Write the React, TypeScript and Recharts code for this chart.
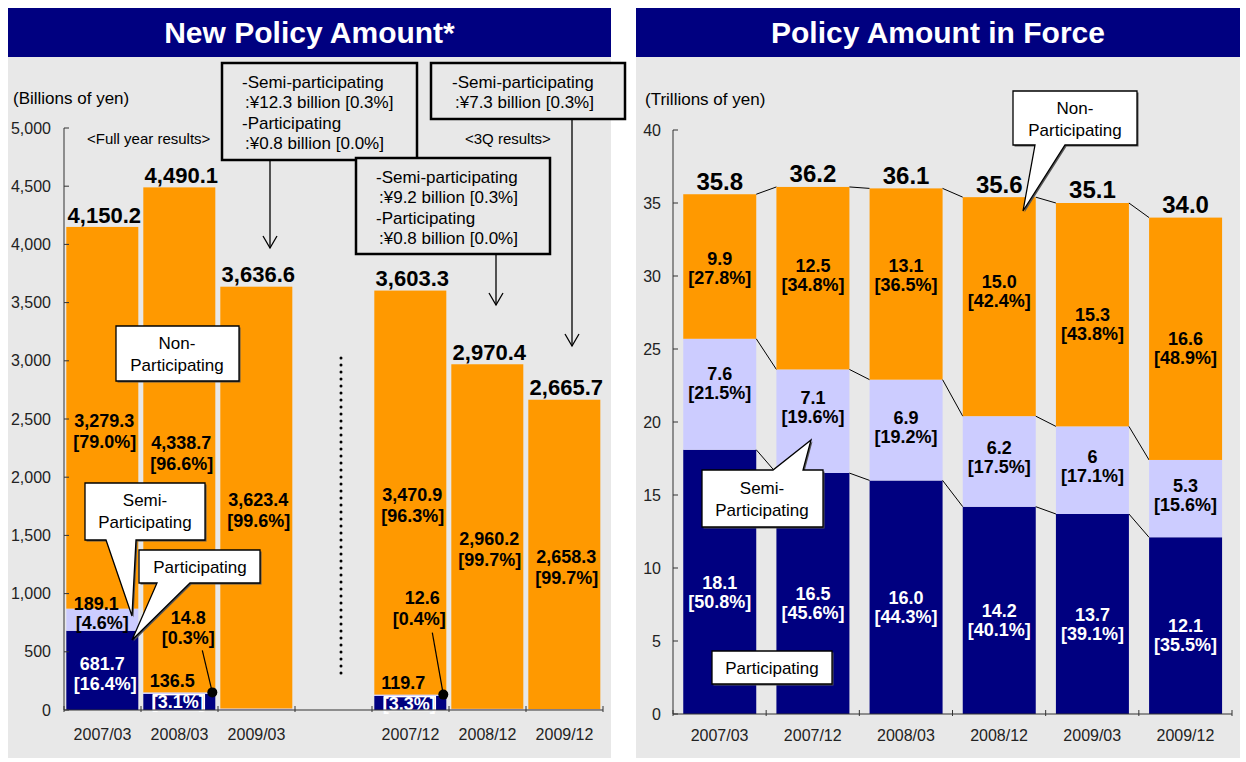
import React from 'react';
import { BarChart, Bar, XAxis, YAxis } from 'recharts';

const FONT = '"Liberation Sans", Arial, Helvetica, sans-serif';
const NAVY = '#000080';
const LILAC = '#ccccff';
const ORANGE = '#ff9900';
const PANEL = '#e8e8e8';
const AXIS = '#333333';

// New Policy Amount (billions of yen); the '' slot is the gap between full year and 3Q bars
const newPeriods = ['2007/03', '2008/03', '2009/03', '', '2007/12', '2008/12', '2009/12'];
const newPart = [681.7, 136.5, 0.8, null, 119.7, 0.8, 0];
const newSemi = [189.1, 14.8, 12.3, null, 12.6, 9.2, 7.3];
const newNon = [3279.3, 4338.7, 3623.4, null, 3470.9, 2960.2, 2658.3];
const newTotal = [4150.2, 4490.1, 3636.6, null, 3603.3, 2970.4, 2665.7];
const newPartPct = ['16.4%', '3.1%', null, null, '3.3%', null, null];
const newSemiPct = ['4.6%', '0.3%', null, null, '0.4%', null, null];
const newNonPct = ['79.0%', '96.6%', '99.6%', null, '96.3%', '99.7%', '99.7%'];
const newTicks = [0, 500, 1000, 1500, 2000, 2500, 3000, 3500, 4000, 4500, 5000];

// Policy Amount in Force (trillions of yen)
const forcePeriods = ['2007/03', '2007/12', '2008/03', '2008/12', '2009/03', '2009/12'];
const forcePart = [18.1, 16.5, 16.0, 14.2, 13.7, 12.1];
const forceSemi = [7.6, 7.1, 6.9, 6.2, 6, 5.3];
const forceNon = [9.9, 12.5, 13.1, 15.0, 15.3, 16.6];
const forceTotal = [35.8, 36.2, 36.1, 35.6, 35.1, 34.0];
const forcePartPct = [50.8, 45.6, 44.3, 40.1, 39.1, 35.5];
const forceSemiPct = [21.5, 19.6, 19.2, 17.5, 17.1, 15.6];
const forceNonPct = [27.8, 34.8, 36.5, 42.4, 43.8, 48.9];
const forceTicks = [0, 5, 10, 15, 20, 25, 30, 35, 40];

const newData = newPeriods.map((period, i) => ({
  period,
  part: newPart[i],
  semi: newSemi[i],
  non: newNon[i],
}));

const forceData = forcePeriods.map((period, i) => ({
  period,
  part: forcePart[i],
  semi: forceSemi[i],
  non: forceNon[i],
}));

// chart frames
const L = { w: 620, h: 762, top: 128, right: 17, bottom: 22, yw: 64, xh: 30 };
const R = { w: 626, h: 762, top: 130, right: 14, bottom: 18, yw: 53, xh: 30 };
const L_BAND = (L.w - L.right - L.yw) / newPeriods.length;
const R_BAND = (R.w - R.right - R.yw) / forcePeriods.length;

const fmt1 = (v: number) =>
  v.toLocaleString('en-US', { minimumFractionDigits: 1, maximumFractionDigits: 1 });

function Txt({ x, y, children, anchor = 'middle', fill = '#000', size = 18, weight = 'bold' }: any) {
  return (
    <text
      x={x}
      y={y}
      dy="0.35em"
      textAnchor={anchor}
      fill={fill}
      fontSize={size}
      fontWeight={weight}
      fontFamily={FONT}
    >
      {children}
    </text>
  );
}

function YTick(props: any) {
  const { x, y, payload, fmt, gap } = props;
  return (
    <g>
      <line x1={x} x2={x + 5} y1={y} y2={y} stroke={AXIS} />
      <text x={x - gap} y={y} dy="0.35em" textAnchor="end" fontSize={16} fill="#222" fontFamily={FONT}>
        {fmt(payload.value)}
      </text>
    </g>
  );
}

function XTick(props: any) {
  const { x, y, payload, count, band, dy } = props;
  const half = payload.offset ? payload.offset : band / 2;
  const last = payload.index === count - 1;
  return (
    <g>
      <line x1={x - half} x2={x - half} y1={y - 4} y2={y + 2} stroke={AXIS} />
      {last && <line x1={x + half} x2={x + half} y1={y - 4} y2={y + 2} stroke={AXIS} />}
      <text x={x} y={y + dy} dy="0.35em" textAnchor="middle" fontSize={16} fill="#222" fontFamily={FONT}>
        {payload.value}
      </text>
    </g>
  );
}

// small segments labelled with a leader line and a dot
const newLeader: Record<number, any> = {
  1: { dx1: 9, dx2: 9, dy1: -75, dy2: -55, lx: -13, ly: -42 },
  4: { dx1: 12, dx2: 9, dy1: -97, dy2: -76, lx: -14, ly: -62 },
};

// top (non-participating) segment of the new policy chart also draws every label of its bar
function NewTopShape(p: any) {
  const { x, y, width: w, height: h, index: i } = p;
  const non = newNon[i];
  if (non == null || !h) return null;
  const part = newPart[i] as number;
  const semi = newSemi[i] as number;
  const ppu = h / non;
  const zeroY = y + h + (part + semi) * ppu;
  const partTop = zeroY - part * ppu;
  const semiTop = y + h;
  const cx = x + w / 2;
  const nonMid = y + h / 2;
  const out: any[] = [];

  out.push(<rect key="r" x={x} y={y} width={w} height={h} fill={ORANGE} />);
  out.push(
    <Txt key="t" x={cx + 2} y={y - 12} size={22}>
      {fmt1(newTotal[i] as number)}
    </Txt>
  );
  out.push(
    <Txt key="n1" x={x + w - 4} y={nonMid + 2.5} anchor="end">
      {fmt1(non)}
    </Txt>
  );
  out.push(
    <Txt key="n2" x={x + w - 2} y={nonMid + 23.5} anchor="end">
      {`[${newNonPct[i]}]`}
    </Txt>
  );

  if (newSemiPct[i]) {
    const ld = newLeader[i];
    if (ld) {
      out.push(
        <g key="s">
          <line x1={x + w + ld.lx} y1={semiTop + ld.ly} x2={x + w - 3} y2={semiTop} stroke="#000" strokeWidth={1.2} />
          <circle cx={x + w - 3} cy={semiTop} r={5} fill="#000" />
          <Txt x={cx + ld.dx1} y={semiTop + ld.dy1}>{fmt1(semi)}</Txt>
          <Txt x={cx + ld.dx2} y={semiTop + ld.dy2}>{`[${newSemiPct[i]}]`}</Txt>
        </g>
      );
    } else {
      const sm = (semiTop + partTop) / 2;
      out.push(
        <g key="s">
          <Txt x={cx - 6} y={sm - 16}>{fmt1(semi)}</Txt>
          <Txt x={cx} y={sm + 3}>{`[${newSemiPct[i]}]`}</Txt>
        </g>
      );
    }
  }

  if (newPartPct[i]) {
    if (part > 300) {
      const pm = (partTop + zeroY) / 2;
      out.push(
        <g key="p">
          <Txt x={cx} y={pm - 7} fill="#fff">{fmt1(part)}</Txt>
          <Txt x={cx + 3} y={pm + 13} fill="#fff">{`[${newPartPct[i]}]`}</Txt>
        </g>
      );
    } else {
      out.push(
        <g key="p">
          <Txt x={cx - 7} y={partTop - 13}>{fmt1(part)}</Txt>
          <rect x={cx - 26} y={partTop + 0.5} width={51} height={zeroY - partTop} fill="none" stroke="#fff" strokeWidth={1.5} />
          <Txt x={cx - 1} y={partTop + 8} fill="#fff">{`[${newPartPct[i]}]`}</Txt>
        </g>
      );
    }
  }
  return <g>{out}</g>;
}

// hand placement of the in-force segment labels, as in the original
const nonNudge = [2, -3, -9, -15, 10, 9];
const semiNudge = [-11, -14, -3, -4, -4, -3];

// top segment of the in-force chart: labels of the bar plus connectors to the next bar
function ForceTopShape(p: any) {
  const { x, y, width: w, height: h, index: i } = p;
  const non = forceNon[i];
  const part = forcePart[i];
  const semi = forceSemi[i];
  const ppu = h / non;
  const zeroY = y + h + (part + semi) * ppu;
  const partTop = zeroY - part * ppu;
  const semiTop = y + h;
  const cx = x + w / 2;
  const out: any[] = [];
  out.push(<rect key="r" x={x} y={y} width={w} height={h} fill={ORANGE} />);

  if (i < forcePeriods.length - 1) {
    const nx = x + R_BAND;
    const levels = [
      [part + semi + non, forcePart[i + 1] + forceSemi[i + 1] + forceNon[i + 1]],
      [part + semi, forcePart[i + 1] + forceSemi[i + 1]],
      [part, forcePart[i + 1]],
    ];
    levels.forEach(([a, b], k) => {
      out.push(
        <line key={`c${k}`} x1={x + w} y1={zeroY - a * ppu} x2={nx} y2={zeroY - b * ppu} stroke="#000" strokeWidth={1} />
      );
    });
  }

  out.push(
    <Txt key="t" x={cx} y={y - 13} size={24}>
      {fmt1(forceTotal[i])}
    </Txt>
  );
  const nm = y + h / 2 + nonNudge[i];
  out.push(<Txt key="n1" x={cx} y={nm - 9.5}>{fmt1(non)}</Txt>);
  out.push(<Txt key="n2" x={cx} y={nm + 9.5}>{`[${fmt1(forceNonPct[i])}%]`}</Txt>);
  const sm = (semiTop + partTop) / 2 + semiNudge[i];
  out.push(<Txt key="s1" x={cx} y={sm - 9.5}>{String(semi)}</Txt>);
  out.push(<Txt key="s2" x={cx} y={sm + 9.5}>{`[${fmt1(forceSemiPct[i])}%]`}</Txt>);
  const pm = (partTop + zeroY) / 2 + 10;
  out.push(<Txt key="p1" x={cx} y={pm - 9.5} fill="#fff">{fmt1(part)}</Txt>);
  out.push(<Txt key="p2" x={cx} y={pm + 9.5} fill="#fff">{`[${fmt1(forcePartPct[i])}%]`}</Txt>);
  return <g>{out}</g>;
}

function Callout({ d, lines, cx, y0, step = 22 }: any) {
  return (
    <g>
      <path d={d} fill="#555" transform="translate(1.5,1.5)" />
      <path d={d} fill="#fff" stroke="#000" strokeWidth={1.3} />
      {lines.map((s: string, k: number) => (
        <text key={k} x={cx} y={y0 + k * step} dy="0.35em" textAnchor="middle" fontSize={17} fontFamily={FONT}>
          {s}
        </text>
      ))}
    </g>
  );
}

function NoteBox({ x, y, w, h, lines, tx, ty }: any) {
  return (
    <g>
      <rect x={x} y={y} width={w} height={h} fill={PANEL} stroke="#000" strokeWidth={2.5} />
      {lines.map((s: string, k: number) => (
        <text key={k} x={tx + (k % 2) * 3} y={ty + k * 20.3} dy="0.35em" fontSize={17} fontFamily={FONT}>
          {s}
        </text>
      ))}
    </g>
  );
}

function Arrow({ x, y1, y2 }: any) {
  return (
    <g stroke="#000" strokeWidth={1.3} fill="none">
      <line x1={x} x2={x} y1={y1} y2={y2} />
      <polyline points={`${x - 7},${y2 - 12} ${x},${y2} ${x + 7},${y2 - 12}`} />
    </g>
  );
}

export default function App() {
  return (
    <div style={{ position: 'absolute', left: 0, top: 0, width: 1246, height: 762, background: '#fff', fontFamily: FONT }}>
      <div style={{ position: 'absolute', left: 8, top: 8, width: 603, height: 750, background: PANEL }} />
      <div style={{ position: 'absolute', left: 636, top: 8, width: 604, height: 750, background: PANEL }} />
      <div
        style={{
          position: 'absolute', left: 8, top: 8, width: 603, height: 49, background: NAVY, color: '#fff',
          fontSize: 30, fontWeight: 'bold', textAlign: 'center', lineHeight: '50px',
        }}
      >
        New Policy Amount*
      </div>
      <div
        style={{
          position: 'absolute', left: 636, top: 8, width: 604, height: 49, background: NAVY, color: '#fff',
          fontSize: 30, fontWeight: 'bold', textAlign: 'center', lineHeight: '50px',
        }}
      >
        Policy Amount in Force
      </div>

      <div style={{ position: 'absolute', left: 0, top: 0 }}>
        <BarChart
          width={L.w}
          height={L.h}
          data={newData}
          margin={{ top: L.top, right: L.right, bottom: L.bottom, left: 0 }}
          barCategoryGap="3%"
        >
          <YAxis
            width={L.yw}
            domain={[0, 5000]}
            ticks={newTicks}
            interval={0}
            tickSize={0}
            tickMargin={0}
            axisLine={{ stroke: AXIS }}
            tickLine={false}
            tick={(t: any) => <YTick {...t} fmt={(v: number) => v.toLocaleString('en-US')} gap={13} />}
          />
          <XAxis
            dataKey="period"
            height={L.xh}
            interval={0}
            tickSize={0}
            tickMargin={0}
            axisLine={{ stroke: AXIS }}
            tickLine={false}
            tick={(t: any) => <XTick {...t} count={newPeriods.length} band={L_BAND} dy={24} />}
          />
          <Bar dataKey="part" stackId="a" fill={NAVY} isAnimationActive={false} />
          <Bar dataKey="semi" stackId="a" fill={LILAC} isAnimationActive={false} />
          <Bar dataKey="non" stackId="a" fill={ORANGE} shape={NewTopShape} isAnimationActive={false} />
        </BarChart>
      </div>

      <div style={{ position: 'absolute', left: 620, top: 0 }}>
        <BarChart
          width={R.w}
          height={R.h}
          data={forceData}
          margin={{ top: R.top, right: R.right, bottom: R.bottom, left: 0 }}
          barCategoryGap="11%"
        >
          <YAxis
            width={R.yw}
            domain={[0, 40]}
            ticks={forceTicks}
            interval={0}
            tickSize={0}
            tickMargin={0}
            axisLine={{ stroke: AXIS }}
            tickLine={false}
            tick={(t: any) => <YTick {...t} fmt={(v: number) => String(v)} gap={12} />}
          />
          <XAxis
            dataKey="period"
            height={R.xh}
            interval={0}
            tickSize={0}
            tickMargin={0}
            axisLine={{ stroke: AXIS }}
            tickLine={false}
            tick={(t: any) => <XTick {...t} count={forcePeriods.length} band={R_BAND} dy={21} />}
          />
          <Bar dataKey="part" stackId="a" fill={NAVY} isAnimationActive={false} />
          <Bar dataKey="semi" stackId="a" fill={LILAC} isAnimationActive={false} />
          <Bar dataKey="non" stackId="a" fill={ORANGE} shape={ForceTopShape} isAnimationActive={false} />
        </BarChart>
      </div>

      <svg width={1246} height={762} style={{ position: 'absolute', left: 0, top: 0, pointerEvents: 'none' }}>
        {/* left panel notes */}
        <text x={13} y={98} dy="0.35em" fontSize={17} fontFamily={FONT}>(Billions of yen)</text>
        <text x={87} y={139} dy="0.35em" fontSize={15} fontFamily={FONT}>&lt;Full year results&gt;</text>
        <text x={465} y={139} dy="0.35em" fontSize={15} fontFamily={FONT}>&lt;3Q results&gt;</text>

        <NoteBox
          x={222} y={63} w={195} h={97} tx={242} ty={82}
          lines={['-Semi-participating', ':¥12.3 billion [0.3%]', '-Participating', ':¥0.8 billion [0.0%]']}
        />
        <Arrow x={270} y1={160} y2={248} />
        <NoteBox
          x={431} y={63} w={194} h={56} tx={452} ty={82}
          lines={['-Semi-participating', ':¥7.3 billion [0.3%]']}
        />
        <Arrow x={572} y1={119} y2={346} />
        <NoteBox
          x={356} y={158} w={194} h={96} tx={376} ty={177}
          lines={['-Semi-participating', ':¥9.2 billion [0.3%]', '-Participating', ':¥0.8 billion [0.0%]']}
        />
        <Arrow x={496} y1={254} y2={305} />

        <line x1={341} x2={341} y1={358} y2={676} stroke="#000" strokeWidth={3} strokeDasharray="0 7" strokeLinecap="round" />

        <Callout d="M116,326 H239 V381 H116 Z" lines={['Non-', 'Participating']} cx={177} y0={343} />
        <Callout d="M85,483 H205 V540 H136 L132,616 L106,540 H85 Z" lines={['Semi-', 'Participating']} cx={145} y0={500} />
        <Callout d="M139,550 H260 V583 H190 L132,640 L157,583 H139 Z" lines={['Participating']} cx={200} y0={567} />

        {/* right panel notes */}
        <text x={645} y={99} dy="0.35em" fontSize={17} fontFamily={FONT}>(Trillions of yen)</text>
        <Callout d="M1013,91 H1137 V145 H1065 L1023,211 L1035,145 H1013 Z" lines={['Non-', 'Participating']} cx={1075} y0={108} />
        <Callout d="M702,470 H773 L811,440 L803,470 H823 V527 H702 Z" lines={['Semi-', 'Participating']} cx={762} y0={488} />
        <Callout d="M712,651 H832 V684 H712 Z" lines={['Participating']} cx={772} y0={668} />
      </svg>
    </div>
  );
}
